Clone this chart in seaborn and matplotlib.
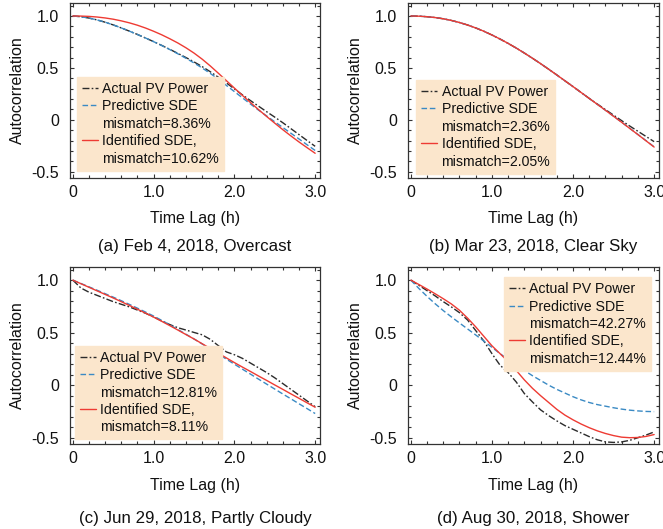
import numpy as np
import pandas as pd
import seaborn as sns
import matplotlib
matplotlib.use("Agg")
import matplotlib.pyplot as plt
from matplotlib.lines import Line2D
from matplotlib.ticker import MultipleLocator, FixedLocator, FixedFormatter

# ---------------- data ----------------
lag = [0.0, 0.1, 0.2, 0.3, 0.4, 0.5, 0.6, 0.7, 0.8, 0.9, 1.0,
       1.1, 1.2, 1.3, 1.4, 1.5, 1.6, 1.7, 1.8, 1.9, 2.0,
       2.1, 2.2, 2.3, 2.4, 2.5, 2.6, 2.7, 2.8, 2.9, 3.0]

# (a) Feb 4, 2018, Overcast
a_actual = [1.000, 0.993, 0.980, 0.962, 0.940, 0.914, 0.885, 0.854, 0.822, 0.788, 0.753,
            0.717, 0.679, 0.640, 0.600, 0.558, 0.513, 0.464, 0.411, 0.356, 0.298,
            0.240, 0.185, 0.131, 0.078, 0.026, -0.028, -0.085, -0.142, -0.199, -0.255]
a_pred = [1.000, 0.993, 0.980, 0.962, 0.940, 0.914, 0.885, 0.854, 0.822, 0.788, 0.753,
          0.716, 0.677, 0.636, 0.593, 0.548, 0.500, 0.448, 0.392, 0.332, 0.272,
          0.212, 0.152, 0.093, 0.037, -0.019, -0.074, -0.129, -0.184, -0.240, -0.295]
a_ident = [1.000, 0.999, 0.996, 0.990, 0.981, 0.969, 0.953, 0.934, 0.911, 0.884, 0.853,
           0.819, 0.781, 0.740, 0.694, 0.643, 0.585, 0.520, 0.450, 0.378, 0.306,
           0.235, 0.166, 0.098, 0.032, -0.032, -0.095, -0.155, -0.213, -0.268, -0.322]

# (b) Mar 23, 2018, Clear Sky
b_actual = [1.000, 0.998, 0.993, 0.985, 0.973, 0.957, 0.937, 0.913, 0.885, 0.853, 0.817,
            0.778, 0.736, 0.691, 0.643, 0.593, 0.541, 0.487, 0.432, 0.376, 0.320,
            0.263, 0.206, 0.152, 0.098, 0.045, -0.008, -0.060, -0.110, -0.160, -0.210]
b_pred = [1.000, 0.998, 0.993, 0.985, 0.973, 0.957, 0.937, 0.913, 0.885, 0.853, 0.817,
          0.778, 0.736, 0.691, 0.643, 0.593, 0.541, 0.487, 0.432, 0.376, 0.320,
          0.263, 0.206, 0.149, 0.092, 0.035, -0.023, -0.082, -0.141, -0.200, -0.260]
b_ident = [1.000, 0.998, 0.993, 0.985, 0.973, 0.957, 0.937, 0.913, 0.885, 0.853, 0.817,
           0.778, 0.736, 0.691, 0.643, 0.593, 0.541, 0.487, 0.432, 0.376, 0.320,
           0.263, 0.206, 0.149, 0.092, 0.034, -0.024, -0.083, -0.142, -0.202, -0.262]

# (c) Jun 29, 2018, Partly Cloudy
c_actual = [1.000, 0.925, 0.885, 0.855, 0.825, 0.795, 0.770, 0.745, 0.715, 0.685, 0.650,
            0.612, 0.577, 0.547, 0.525, 0.502, 0.480, 0.437, 0.377, 0.317, 0.290,
            0.255, 0.210, 0.165, 0.120, 0.070, 0.015, -0.040, -0.095, -0.150, -0.205]
c_pred = [1.000, 0.968, 0.936, 0.904, 0.871, 0.838, 0.804, 0.769, 0.733, 0.696, 0.658,
          0.617, 0.574, 0.530, 0.485, 0.440, 0.393, 0.345, 0.297, 0.248, 0.200,
          0.152, 0.105, 0.057, 0.010, -0.037, -0.084, -0.130, -0.177, -0.223, -0.270]
c_ident = [1.000, 0.966, 0.932, 0.898, 0.864, 0.830, 0.795, 0.759, 0.723, 0.686, 0.648,
           0.608, 0.567, 0.525, 0.482, 0.440, 0.395, 0.350, 0.305, 0.260, 0.215,
           0.172, 0.130, 0.087, 0.045, 0.002, -0.040, -0.083, -0.125, -0.168, -0.210]

# (d) Aug 30, 2018, Shower
d_actual = [1.000, 0.950, 0.900, 0.850, 0.795, 0.745, 0.690, 0.620, 0.520, 0.420, 0.300,
            0.190, 0.120, 0.030, -0.080, -0.160, -0.235, -0.290, -0.340, -0.385, -0.420,
            -0.455, -0.490, -0.520, -0.540, -0.545, -0.540, -0.525, -0.500, -0.475, -0.445]
d_pred = [1.000, 0.920, 0.845, 0.775, 0.710, 0.650, 0.592, 0.535, 0.478, 0.420, 0.360,
          0.300, 0.245, 0.190, 0.140, 0.090, 0.045, 0.000, -0.040, -0.075, -0.110,
          -0.140, -0.165, -0.185, -0.200, -0.215, -0.228, -0.238, -0.245, -0.250, -0.252]
d_ident = [1.000, 0.958, 0.915, 0.870, 0.823, 0.773, 0.713, 0.638, 0.555, 0.465, 0.375,
           0.300, 0.225, 0.140, 0.050, -0.030, -0.100, -0.165, -0.230, -0.285, -0.330,
           -0.370, -0.405, -0.435, -0.460, -0.480, -0.495, -0.500, -0.498, -0.488, -0.470]

panel_ids = ["a", "b", "c", "d"]
captions = ["(a) Feb 4, 2018, Overcast", "(b) Mar 23, 2018, Clear Sky",
            "(c) Jun 29, 2018, Partly Cloudy", "(d) Aug 30, 2018, Shower"]
pred_mismatch = ["mismatch=8.36%", "mismatch=2.36%", "mismatch=12.81%", "mismatch=42.27%"]
ident_mismatch = ["mismatch=10.62%", "mismatch=2.05%", "mismatch=8.11%", "mismatch=12.44%"]
series_names = ["Actual PV Power", "Predictive SDE", "Identified SDE,"]
x_ticks = [0, 1, 2, 3]
x_tick_labels = ["0", "1.0", "2.0", "3.0"]
y_ticks = [-0.5, 0, 0.5, 1.0]
y_tick_labels = ["-0.5", "0", "0.5", "1.0"]

values = {
    "a": (a_actual, a_pred, a_ident),
    "b": (b_actual, b_pred, b_ident),
    "c": (c_actual, c_pred, c_ident),
    "d": (d_actual, d_pred, d_ident),
}

rows = []
for p in panel_ids:
    for name, ser in zip(series_names, values[p]):
        for x, y in zip(lag, ser):
            rows.append({"panel": p, "series": name, "lag": x, "acf": y})
df = pd.DataFrame(rows)

# ---------------- style ----------------
sns.set_theme(style="ticks")
plt.rcParams["font.family"] = ["Liberation Sans", "DejaVu Sans"]
plt.rcParams["axes.linewidth"] = 0.9

BLACK = "#2b2b2b"
BLUE = "#3a8ac4"
RED = "#ee3b33"
PEACH = "#fbe6cc"
TXT = "#111111"
palette = {series_names[0]: BLACK, series_names[1]: BLUE, series_names[2]: RED}
dashes = {series_names[0]: (5, 1.6, 1.2, 1.6), series_names[1]: (4, 2), series_names[2]: ""}

W, H = 663, 529
fig = plt.figure(figsize=(W / 100, H / 100), dpi=100)

# axes frames in pixel coords (left, top, right, bottom)
frames = {
    "a": (70, 3, 320, 178),
    "b": (408, 3, 659, 178),
    "c": (70, 267, 320, 444),
    "d": (408, 267, 659, 444),
}
legend_anchor = {
    "a": ("upper left", (0.028, 0.577)),
    "b": ("upper left", (0.032, 0.56)),
    "c": ("upper left", (0.02, 0.555)),
    "d": ("upper right", (0.968, 0.942)),
}
caption_y = {"a": 247, "b": 247, "c": 519, "d": 519}

for i, p in enumerate(panel_ids):
    l, t, r, b = frames[p]
    ax = fig.add_axes([l / W, 1 - b / H, (r - l) / W, (b - t) / H])
    sub = df[df["panel"] == p]
    sns.lineplot(data=sub, x="lag", y="acf", hue="series", style="series",
                 palette=palette, dashes=dashes, hue_order=series_names,
                 style_order=series_names, linewidth=1.0, ax=ax, legend=False,
                 estimator=None, sort=False)
    ax.set_xlim(-0.035, 3.06)
    ax.set_ylim(-0.56, 1.125)
    ax.xaxis.set_major_locator(FixedLocator(x_ticks))
    ax.xaxis.set_major_formatter(FixedFormatter(x_tick_labels))
    ax.yaxis.set_major_locator(FixedLocator(y_ticks))
    ax.yaxis.set_major_formatter(FixedFormatter(y_tick_labels))
    ax.xaxis.set_minor_locator(MultipleLocator(0.2))
    ax.yaxis.set_minor_locator(MultipleLocator(0.1))
    ax.tick_params(which="both", direction="in", top=True, right=True,
                   color="#333333", width=0.8)
    ax.tick_params(which="major", length=3.2, labelsize=11.5, labelcolor=TXT)
    ax.tick_params(axis="x", which="major", pad=5.0)
    ax.tick_params(axis="y", which="major", pad=8)
    ax.tick_params(which="minor", length=2.2)
    for s in ax.spines.values():
        s.set_color("#333333")
    ax.set_xlabel("Time Lag (h)", fontsize=11.5, color=TXT)
    ax.set_ylabel("Autocorrelation", fontsize=11.5, color=TXT)
    ax.xaxis.set_label_coords(0.5, -0.19)
    ax.yaxis.set_label_coords(-0.18, 0.5)

    handles = [
        Line2D([], [], color=BLACK, lw=1.0, dashes=dashes[series_names[0]]),
        Line2D([], [], color=BLUE, lw=1.0, dashes=dashes[series_names[1]]),
        Line2D([], [], linestyle="none"),
        Line2D([], [], color=RED, lw=1.0),
        Line2D([], [], linestyle="none"),
    ]
    labels = [series_names[0], series_names[1], pred_mismatch[i],
              series_names[2], ident_mismatch[i]]
    loc, anchor = legend_anchor[p]
    leg = ax.legend(handles, labels, loc=loc, bbox_to_anchor=anchor,
                    fontsize=10.2, frameon=True, fancybox=False, framealpha=1,
                    facecolor=PEACH, edgecolor=PEACH, handlelength=1.15,
                    handletextpad=0.3, labelspacing=0.24, borderpad=0.35,
                    borderaxespad=0.0)
    for txt in leg.get_texts():
        txt.set_color(TXT)

    cx = (l + r) / 2 / W
    fig.text(cx, 1 - caption_y[p] / H, captions[i], ha="center", va="center",
             fontsize=12.2, color=TXT)

fig.savefig("out.png", dpi=100)
